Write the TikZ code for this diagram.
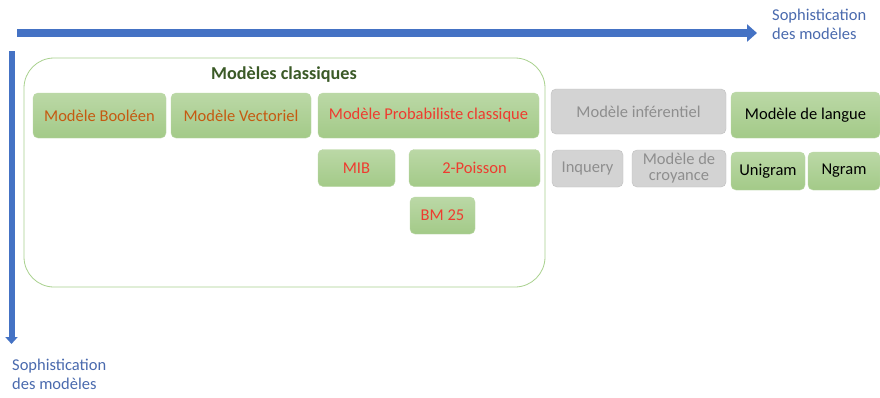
\documentclass[tikz,border=0pt]{standalone}
\usepackage{fontspec}
\setmainfont{Carlito}
\usepackage{tikz}
\usetikzlibrary{arrows.meta, positioning}
\definecolor{axisblue}{HTML}{4472C4}
\definecolor{labelblue}{HTML}{4A6AAE}
\definecolor{framegreen}{HTML}{A9D18E}
\definecolor{boxtop}{HTML}{BBD8A6}
\definecolor{boxbottom}{HTML}{A3CA88}
\definecolor{titlegreen}{HTML}{3B5A27}
\definecolor{boolbrown}{HTML}{C55A11}
\definecolor{probred}{HTML}{EE3B2F}
\definecolor{greyfill}{HTML}{D3D3D3}
\definecolor{greytext}{HTML}{8E8E8E}

\begin{document}
\begin{tikzpicture}[x=1pt, y=-1pt, font=\fontsize{16.5}{19}\selectfont,
    gbox/.style={rectangle, rounded corners=5pt, draw=boxtop,
      top color=boxtop, bottom color=boxbottom,
      inner sep=0pt, align=center},
    greybox/.style={rectangle, rounded corners=5pt, draw=gray!50,
      fill=greyfill, text=greytext, inner sep=0pt, align=center},
    axis/.style={axisblue, -{Triangle[length=10pt, width=17pt]}},
    axlabel/.style={text=labelblue, align=left, inner sep=0pt, font=\fontsize{16.5}{19}\selectfont},
  ]
    \useasboundingbox[fill=white] (0,0) rectangle (880,397);

    % Axes
    \coordinate (hstart) at (17,33);
    \coordinate (hend)   at (757,33);
    \coordinate (vstart) at (11.5,51);
    \coordinate (vend)   at (11.5,344);
    \draw[axis, line width=7.5pt] (hstart) -- (hend);
    \draw[axisblue, line width=6pt, -{Triangle[length=7pt, width=12pt]}] (vstart) -- (vend);
    \node[axlabel, anchor=north west] (hlab) at (772,9)   {Sophistication\\des modèles};
    \node[axlabel, anchor=north west] (vlab) at (12,359)  {Sophistication\\des modèles};

    % Classic models frame
    \node[draw=framegreen, thick, rounded corners=30pt, minimum width=521pt,
      minimum height=229pt] (classic) at (284.5,172.5) {};
    \node[font=\fontsize{18.2}{21}\selectfont\bfseries, text=titlegreen] (ctitle) at (284,75) {Modèles classiques};

    % Row 1
    \node[gbox, text=boolbrown, minimum width=133pt, minimum height=45pt] (bool) at (99.5,115.5)  {Modèle Booléen};
    \node[gbox, text=boolbrown, minimum width=140pt, minimum height=45pt] (vect) at (241,115.5)   {Modèle Vectoriel};
    \node[gbox, text=probred,   minimum width=221pt, minimum height=45pt] (prob) at (428.5,115.5) {Modèle Probabiliste classique};
    \node[greybox, minimum width=175pt, minimum height=45pt] (infer)  at (638.5,111.5) {Modèle inférentiel};
    \node[gbox, text=black, minimum width=149pt, minimum height=46pt] (langue) at (805.5,115) {Modèle de langue};

    % Row 2
    \node[gbox, text=probred, minimum width=77pt,  minimum height=37pt] (mib)  at (356.5,168) {MIB};
    \node[gbox, text=probred, minimum width=131pt, minimum height=37pt] (pois) at (474.5,168) {2-Poisson};
    \node[gbox, text=probred, minimum width=65pt,  minimum height=37pt] (bm)   at (442.5,215.5) {BM 25};
    \node[greybox, minimum width=71pt, minimum height=37pt] (inq)  at (587.5,168.5) {Inquery};
    \node[greybox, minimum width=94pt, minimum height=37pt, font=\fontsize{16.5}{16}\selectfont] (croy) at (679,168.5) {Modèle de\\croyance};
    \node[gbox, text=black, minimum width=74pt, minimum height=38pt] (uni)   at (768,171) {Unigram};
    \node[gbox, text=black, minimum width=72pt, minimum height=38pt] (ngram) at (844,171) {Ngram};
\end{tikzpicture}
\end{document}
